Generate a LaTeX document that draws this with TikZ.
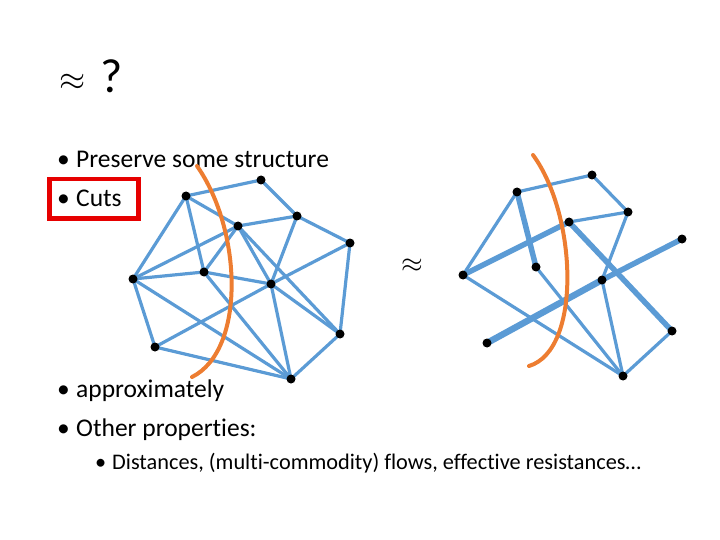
\documentclass[tikz,border=0pt]{standalone}
\usepackage{fontspec}
\setmainfont{Carlito}[Ligatures=NoCommon]
\usetikzlibrary{backgrounds}
\definecolor{eblue}{RGB}{91,155,213}
\definecolor{corange}{RGB}{237,125,49}
\definecolor{bred}{RGB}{230,0,0}
\tikzset{
  vtx/.style={circle,fill=black,inner sep=0pt,minimum size=9pt},
  edge/.style={draw=eblue,line width=3.2pt},
  heavy/.style={draw=eblue,line width=5.5pt},
  heavier/.style={draw=eblue,line width=6.5pt},
  cutline/.style={draw=corange,line width=4pt,line cap=round},
  txt/.style={anchor=base west,inner sep=0pt,font=\fontsize{25.5}{30}\selectfont},
  subtxt/.style={anchor=base west,inner sep=0pt,font=\fontsize{22.3}{26}\selectfont},
  apx/.style={inner sep=0pt,font=\fontsize{24.88}{28}\selectfont},
}
\begin{document}
\begin{tikzpicture}[x=1pt,y=-1pt]
\useasboundingbox (0,0) rectangle (720,540);
% title
\node[apx,scale=1.35] (title) at (73,82) {$\approx$};
\node[anchor=base west,inner sep=0pt,font=\fontsize{48}{52}\selectfont] (q) at (100,93) {?};
% bullets
\node[txt] (d1) at (57,168) {\textbullet};
\node[txt] (b1) at (76,168) {Preserve some structure};
\node[txt] (d2) at (57,207) {\textbullet};
\node[txt] (b2) at (76,207) {Cuts};
\draw[draw=bred,line width=4.5pt] (49.5,179) rectangle (138.5,218.5);
\node[txt] (d3) at (57,397) {\textbullet};
\node[txt] (b3) at (76,397) {approximately};
\node[txt] (d4) at (57,436) {\textbullet};
\node[txt] (b4) at (76,436) {Other properties:};
\node[subtxt] (d5) at (95,469) {\textbullet};
\node[subtxt] (b5) at (112,469) {Distances, (multi-commodity) flows, effective resistances…};
% middle approx
\node[apx,scale=1.12] (mid) at (412,266) {$\approx$};

% left graph vertices
\node[vtx] (A) at (186,196) {};
\node[vtx] (B) at (261,180) {};
\node[vtx] (C) at (238,226) {};
\node[vtx] (D) at (297,216) {};
\node[vtx] (E) at (350,243) {};
\node[vtx] (F) at (133,279) {};
\node[vtx] (G) at (204,272) {};
\node[vtx] (H) at (271,284) {};
\node[vtx] (I) at (340,334) {};
\node[vtx] (J) at (155,347) {};
\node[vtx] (K) at (291,379) {};
% right graph vertices
\node[vtx] (a) at (517,192) {};
\node[vtx] (b) at (592,175) {};
\node[vtx] (c) at (569,222) {};
\node[vtx] (d) at (628,212) {};
\node[vtx] (e) at (682,239) {};
\node[vtx] (f) at (463,275) {};
\node[vtx] (g) at (536,267) {};
\node[vtx] (h) at (602,280) {};
\node[vtx] (i) at (672,331) {};
\node[vtx] (j) at (487,343) {};
\node[vtx] (k) at (623,376) {};

\begin{scope}[on background layer]
% left edges
\foreach \u/\v in {A/B,A/C,A/F,A/G,B/D,C/D,C/F,C/G,C/H,C/I,D/E,D/H,E/H,E/I,F/G,F/J,F/K,G/H,G/K,H/I,H/J,H/K,I/K,J/K}
  \draw[edge] (\u.center) -- (\v.center);
% right edges
\foreach \u/\v in {a/b,b/d,c/d,a/f,d/h,f/k,g/k,h/k,i/k}
  \draw[edge] (\u.center) -- (\v.center);
\foreach \u/\v in {a/g,f/c,c/i,e/h}
  \draw[heavy] (\u.center) -- (\v.center);
\draw[heavier] (h.center) -- (j.center);
\end{scope}
% cuts
\draw[cutline] (197,166) .. controls (242,230) and (246,350) .. (192,377);
\draw[cutline] (533,155) .. controls (577,215) and (582,350) .. (529,366);
\end{tikzpicture}
\end{document}
